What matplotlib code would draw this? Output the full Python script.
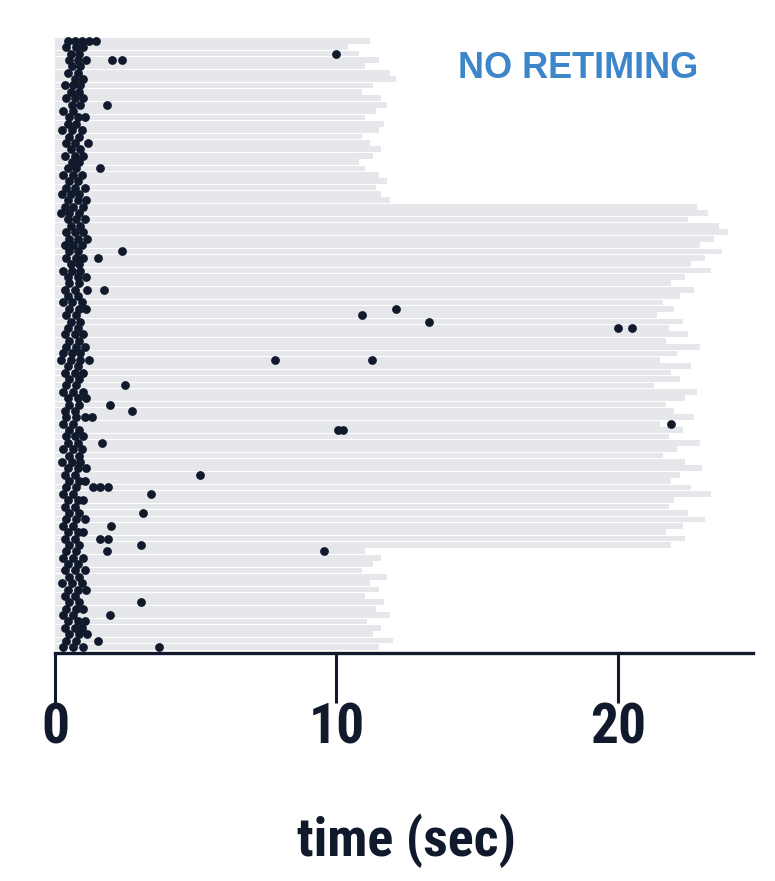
import matplotlib
matplotlib.use('Agg')
import matplotlib.pyplot as plt

# bar length (sec) for each trial row, top to bottom
top_lengths = [11.2, 10.4, 10.8, 11.5, 11.0, 11.9, 12.1, 11.3, 10.9, 11.6,
               11.8, 11.4, 11.0, 11.7, 11.5, 10.9, 11.2, 11.6, 11.3, 10.8,
               11.0, 11.5, 11.8, 11.4, 11.6, 11.9]
mid_lengths = [22.8, 23.2, 22.5, 23.6, 23.9, 23.4, 22.9, 23.7, 23.1, 22.6,
               23.3, 22.4, 21.9, 22.7, 22.2, 21.6, 22.0, 21.4, 22.3, 21.8,
               22.5, 21.7, 22.9, 22.1, 21.5, 22.6, 21.9, 22.2, 21.3, 22.8,
               22.4, 21.7, 22.0, 22.7, 21.5, 22.3, 21.8, 22.9, 22.1, 21.6,
               22.4, 23.0, 22.2, 21.9, 22.6, 23.3, 22.0, 21.8, 22.5, 23.1,
               22.3, 21.7, 22.4, 21.9]
bottom_lengths = [11.0, 11.6, 11.3, 10.9, 11.8, 11.2, 11.5, 11.0, 11.7, 11.4,
                  11.9, 11.1, 11.6, 11.3, 12.0, 11.5]
lengths = top_lengths + mid_lengths + bottom_lengths

# event times (sec) in each row
events = [
    [0.45, 0.7, 0.95, 1.2, 1.45],
    [0.4, 0.75, 1.0],
    [0.55, 0.85, 10.0],
    [0.5, 0.8, 1.1, 2.03, 2.38],
    [0.6, 0.9],
    [0.45, 0.8],
    [0.7, 1.0],
    [0.35, 0.65, 0.9],
    [0.55, 0.85],
    [0.4, 0.7, 1.0],
    [0.6, 0.9, 1.85],
    [0.3, 0.65],
    [0.5, 0.8, 1.05],
    [0.45, 0.75],
    [0.25, 0.6, 0.95],
    [0.5, 0.85],
    [0.4, 0.7, 1.17],
    [0.55, 0.9],
    [0.35, 0.7, 1.0],
    [0.6, 0.85],
    [0.45, 0.75, 1.6],
    [0.3, 0.65, 0.95],
    [0.5, 0.8],
    [0.4, 0.7, 1.05],
    [0.25, 0.55, 0.85],
    [0.45, 0.8, 1.1],
    [0.35, 0.65, 1.0],
    [0.2, 0.5, 0.85],
    [0.45, 0.75, 1.05],
    [0.55, 0.9],
    [0.4, 0.7, 1.0],
    [0.5, 0.8, 1.15],
    [0.35, 0.65, 0.95],
    [0.5, 0.8, 2.38],
    [0.4, 0.75, 1.0, 1.53],
    [0.55, 0.85],
    [0.3, 0.6, 0.9],
    [0.45, 0.8, 1.1],
    [0.5, 0.85],
    [0.35, 0.7, 1.14, 1.74],
    [0.45, 0.8],
    [0.3, 0.6, 0.95],
    [0.5, 0.85, 1.1, 12.1],
    [0.4, 0.75, 10.9],
    [0.55, 0.9, 13.3],
    [0.45, 0.8, 20.0, 20.5],
    [0.35, 0.7, 1.0],
    [0.5, 0.85],
    [0.4, 0.75, 1.05],
    [0.3, 0.6, 0.9],
    [0.2, 0.55, 0.9, 1.2, 7.8, 11.25],
    [0.45, 0.8],
    [0.35, 0.7, 1.0],
    [0.5, 0.85],
    [0.4, 0.75, 2.5],
    [0.3, 0.65, 1.0],
    [0.45, 0.8, 1.1],
    [0.5, 0.85, 1.96],
    [0.35, 0.7, 2.74],
    [0.4, 0.75, 1.05, 1.3],
    [0.3, 0.65, 21.9],
    [0.5, 0.85, 10.07, 10.25],
    [0.4, 0.7, 1.0],
    [0.45, 0.8, 1.67],
    [0.3, 0.65, 0.95],
    [0.5, 0.85],
    [0.25, 0.6, 0.9],
    [0.45, 0.8, 1.1],
    [0.35, 0.7, 5.16],
    [0.5, 0.85, 1.05],
    [0.4, 0.75, 1.35, 1.6, 1.9],
    [0.3, 0.65, 3.4],
    [0.45, 0.8, 1.0],
    [0.35, 0.7],
    [0.5, 0.85, 3.13],
    [0.4, 0.75, 1.05],
    [0.3, 0.65, 2.0],
    [0.45, 0.8, 1.0],
    [0.35, 0.7, 1.6, 1.9],
    [0.5, 0.85, 3.06],
    [0.4, 0.75, 1.85, 9.57],
    [0.3, 0.65, 1.0],
    [0.45, 0.8],
    [0.35, 0.7, 1.05],
    [0.5, 0.85],
    [0.25, 0.6, 0.95],
    [0.45, 0.8, 1.1],
    [0.35, 0.7],
    [0.5, 0.85, 3.06],
    [0.4, 0.75, 1.0],
    [0.3, 0.65, 1.96],
    [0.45, 0.8, 1.05],
    [0.35, 0.7, 0.95],
    [0.5, 0.85, 1.15],
    [0.4, 0.75, 1.53],
    [0.3, 0.65, 1.0, 3.7],
]

xticks = [0, 10, 20]
title = 'NO RETIMING'
xlabel = 'time (sec)'

dark = '#111a2c'
bar_color = '#e6e7ea'
narrow = ['Roboto Condensed', 'Open Sans', 'DejaVu Sans']

fig = plt.figure(figsize=(7.75, 8.81), dpi=100)
ax = fig.add_axes([0.071, 0.2588, 0.9006, 0.6992])

rows = list(range(len(lengths)))
ax.barh(rows, lengths, height=0.9, color=bar_color, left=0, zorder=1)

xs = []
ys = []
for r, ev in enumerate(events):
    for t in ev:
        xs.append(t)
        ys.append(r)
ax.scatter(xs, ys, s=40, color=dark, zorder=3, linewidths=0)

ax.set_xlim(0, 24.8)
ax.set_ylim(len(lengths) - 0.06, -0.6)

for s in ['left', 'top', 'right']:
    ax.spines[s].set_visible(False)
ax.spines['bottom'].set_linewidth(2.4)
ax.spines['bottom'].set_color(dark)
ax.spines['bottom'].set_zorder(4)

ax.set_yticks([])
ax.set_xticks(xticks)
ax.tick_params(axis='x', direction='out', length=36, width=2.2, color=dark, pad=0)
for lab in ax.get_xticklabels():
    lab.set_family(narrow)
    lab.set_fontweight('bold')
    lab.set_fontsize(40)
    lab.set_color(dark)

fig.text(0.524, 0.0455, xlabel, ha='center', va='center', fontsize=39,
         fontweight='bold', family=narrow, color=dark)
fig.text(458 / 775, 1 - 68 / 881, title, ha='left', va='center', fontsize=26,
         fontweight='bold', family=['Liberation Sans', 'DejaVu Sans'], color='#3d86c9')

fig.savefig('out.png', dpi=100)
